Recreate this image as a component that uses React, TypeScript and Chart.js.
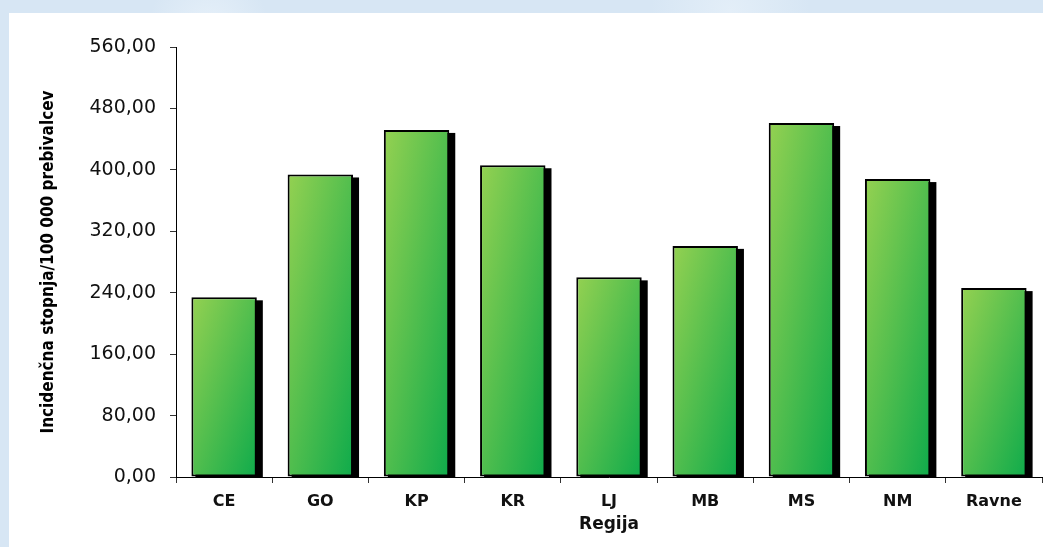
import React, { useEffect, useRef } from "react";
import { Chart, registerables } from "chart.js";

Chart.register(...registerables);

const categories = ["CE", "GO", "KP", "KR", "LJ", "MB", "MS", "NM", "Ravne"];
const values = [234, 394, 452, 406, 260, 301, 461, 388, 246];
const yTicks = [0, 80, 160, 240, 320, 400, 480, 560];
const yTitle = "Incidenčna stopnja/100 000 prebivalcev";
const xTitle = "Regija";

const BAR_FRACTION = 0.68;

const shadowPlugin = {
  id: "barShadow",
  beforeDatasetDraw(chart: any, args: any) {
    const ctx = chart.ctx;
    const area = chart.chartArea;
    ctx.save();
    ctx.beginPath();
    ctx.rect(area.left, area.top, area.right - area.left, area.bottom - area.top);
    ctx.clip();
    ctx.fillStyle = "#000000";
    for (const el of args.meta.data) {
      const p = el.getProps(["x", "y", "base", "width"], true);
      const left = p.x - p.width / 2 - 1;
      const top = Math.min(p.y, p.base) - 1;
      const h = Math.abs(p.base - p.y) + 2;
      ctx.fillRect(left + 5, top + 4, p.width + 2, h);
    }
    ctx.restore();
  },
};

export default function App() {
  const ref = useRef<HTMLCanvasElement | null>(null);

  useEffect(() => {
    if (!ref.current) return;
    const chart = new Chart(ref.current, {
      type: "bar",
      data: {
        labels: categories,
        datasets: [
          {
            data: values,
            borderColor: "#000000",
            borderWidth: 2,
            borderSkipped: false,
            barPercentage: BAR_FRACTION,
            categoryPercentage: 1,
            backgroundColor: (c: any) => {
              const ch = c.chart;
              const area = ch.chartArea;
              if (!area || !ch.scales.x) return "#6cc04c";
              const xs = ch.scales.x;
              const ys = ch.scales.y;
              const cx = xs.getPixelForValue(c.dataIndex);
              const w = (xs.width / categories.length) * BAR_FRACTION;
              const left = cx - w / 2;
              const top = ys.getPixelForValue(values[c.dataIndex]);
              const base = ys.getPixelForValue(0);
              const h = Math.max(1, base - top);
              const d = h * h + w * w;
              const ex = left + (2 * w * h * h) / d;
              const ey = top + (2 * w * w * h) / d;
              const g = ch.ctx.createLinearGradient(left, top, ex, ey);
              g.addColorStop(0, "#94d151");
              g.addColorStop(1, "#0fab4b");
              return g;
            },
          },
        ],
      },
      options: {
        responsive: false,
        animation: false,
        devicePixelRatio: 1,
        layout: { padding: { left: 0, top: 34, right: 1, bottom: 0 } },
        plugins: {
          legend: { display: false },
          tooltip: { enabled: false },
        },
        scales: {
          x: {
            grid: {
              display: true,
              drawOnChartArea: false,
              drawTicks: true,
              tickLength: 6,
              color: "#333333",
              offset: true,
            },
            border: { display: true, color: "#000000", width: 1 },
            ticks: {
              color: "#111111",
              padding: 9,
              font: { family: "DejaVu Sans", size: 16, weight: "bold" },
            },
            title: {
              display: true,
              text: xTitle,
              color: "#111111",
              font: { family: "DejaVu Sans", size: 17, weight: "bold" },
              padding: { top: 0, bottom: 12 },
            },
            afterFit: (s: any) => {
              s.height = 70;
            },
          },
          y: {
            min: 0,
            max: 560,
            afterBuildTicks: (s: any) => {
              s.ticks = yTicks.map((v) => ({ value: v }));
            },
            grid: {
              display: true,
              drawOnChartArea: false,
              drawTicks: true,
              tickLength: 6,
              color: "#333333",
            },
            border: { display: true, color: "#000000", width: 1 },
            ticks: {
              color: "#111111",
              padding: 14,
              font: { family: "DejaVu Sans", size: 19 },
              callback: (v: any) => Number(v).toFixed(2).replace(".", ","),
            },
            title: {
              display: true,
              text: yTitle,
              color: "#000000",
              font: { family: "DejaVu Sans Condensed", size: 17, weight: "bold" },
              padding: { top: 29, bottom: 0 },
            },
            afterFit: (s: any) => {
              s.width = 167;
            },
          },
        },
      },
      plugins: [shadowPlugin],
    });
    return () => chart.destroy();
  }, []);

  return (
    <div
      style={{
        position: "fixed",
        left: 0,
        top: 0,
        width: 1043,
        height: 547,
        background:
          "radial-gradient(circle at 20% 5%, #e6f0f9 0, rgba(230,240,249,0) 60px), radial-gradient(circle at 70% 2%, #e3eef8 0, rgba(227,238,248,0) 80px), #d7e6f4",
        overflow: "hidden",
      }}
    >
      <div
        style={{
          position: "absolute",
          left: 9,
          top: 13,
          width: 1034,
          height: 534,
          background: "#ffffff",
        }}
      >
        <canvas ref={ref} width={1034} height={534} style={{ display: "block" }} />
      </div>
    </div>
  );
}
